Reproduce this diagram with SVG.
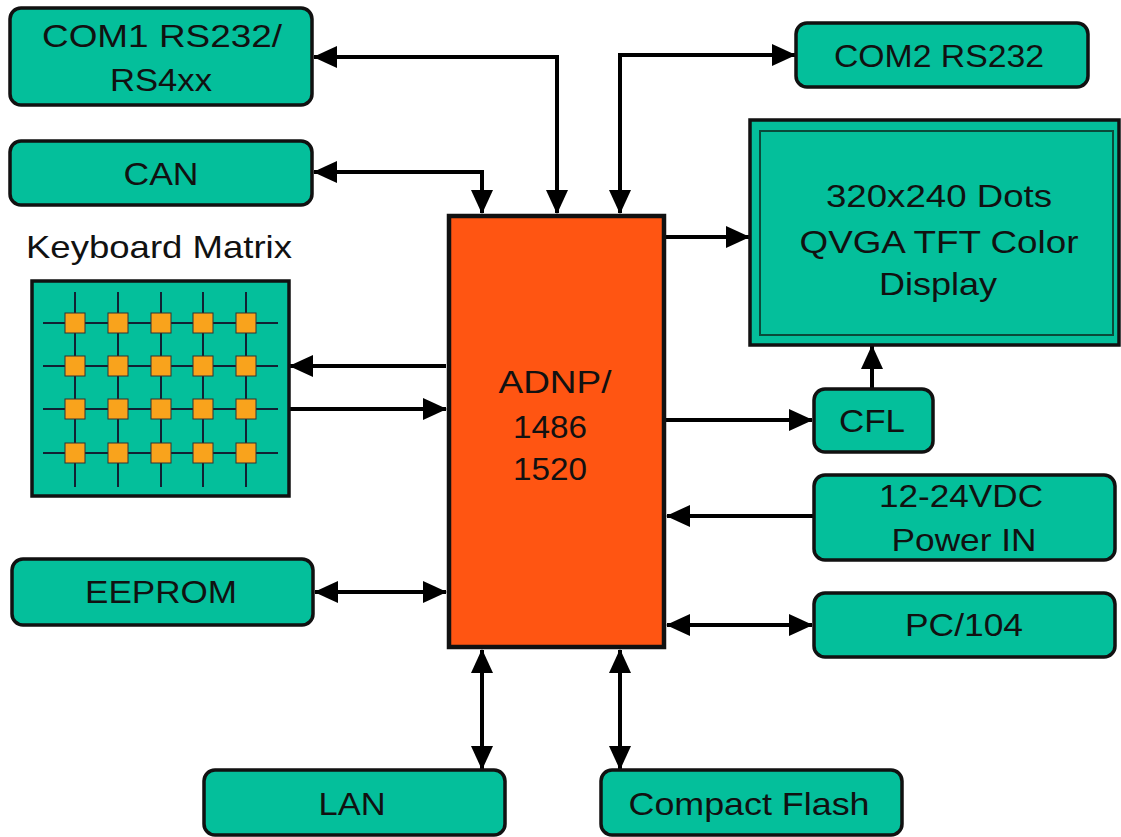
<svg xmlns="http://www.w3.org/2000/svg" width="1121" height="837" viewBox="0 0 1121 837">
<defs>
<style>
.box{fill:#04BF9B;stroke:#111;stroke-width:3.5}
.cpu{fill:#FF5512;stroke:#111;stroke-width:4.5}
.t{font-family:"Liberation Sans",Arial,sans-serif;font-size:32px;fill:#111;text-anchor:middle}
.c{fill:none;stroke:#000;stroke-width:4}
.g{stroke:#123;stroke-width:2}
.k{fill:#F9A31C;stroke:#333;stroke-width:1}
</style>
<marker id="ah" viewBox="0 0 24 22" refX="23" refY="11" markerWidth="24" markerHeight="22" markerUnits="userSpaceOnUse" orient="auto-start-reverse">
<path d="M0,0 L24,11 L0,22 z" fill="#000"/>
</marker>
</defs>
<rect width="1121" height="837" fill="#fff"/>

<g id="connectors">
<path class="c" d="M314,57 H557 V213" marker-start="url(#ah)" marker-end="url(#ah)"/>
<path class="c" d="M314,172 H482 V213" marker-start="url(#ah)" marker-end="url(#ah)"/>
<path class="c" d="M620,213 V55 H795" marker-start="url(#ah)" marker-end="url(#ah)"/>
<path class="c" d="M666,237 H749" marker-end="url(#ah)"/>
<path class="c" d="M446,366 H290" marker-end="url(#ah)"/>
<path class="c" d="M290,409 H446" marker-end="url(#ah)"/>
<path class="c" d="M666,420 H812" marker-end="url(#ah)"/>
<path class="c" d="M872,388 V346" marker-end="url(#ah)"/>
<path class="c" d="M813,516 H667" marker-end="url(#ah)"/>
<path class="c" d="M667,625 H812" marker-start="url(#ah)" marker-end="url(#ah)"/>
<path class="c" d="M315,592 H446" marker-start="url(#ah)" marker-end="url(#ah)"/>
<path class="c" d="M482,650 V769" marker-start="url(#ah)" marker-end="url(#ah)"/>
<path class="c" d="M620,650 V769" marker-start="url(#ah)" marker-end="url(#ah)"/>
</g>

<g id="com1">
<rect class="box" x="10" y="8" width="302" height="97" rx="11"/>
<text class="t" x="162" y="47" textLength="240" lengthAdjust="spacingAndGlyphs">COM1 RS232/</text>
<text class="t" x="161" y="91" textLength="102" lengthAdjust="spacingAndGlyphs">RS4xx</text>
</g>
<g id="can">
<rect class="box" x="10" y="141" width="302" height="64" rx="11"/>
<text class="t" x="161" y="185" textLength="75" lengthAdjust="spacingAndGlyphs">CAN</text>
</g>
<g id="com2">
<rect class="box" x="796" y="23" width="292" height="64" rx="11"/>
<text class="t" x="939" y="67" textLength="210" lengthAdjust="spacingAndGlyphs">COM2 RS232</text>
</g>
<g id="display">
<rect class="box" x="750" y="120" width="369" height="225"/>
<rect x="760" y="131" width="353" height="204" fill="none" stroke="#0a4a3a" stroke-width="2"/>
<text class="t" x="939" y="207" textLength="226" lengthAdjust="spacingAndGlyphs">320x240 Dots</text>
<text class="t" x="939" y="253" textLength="279" lengthAdjust="spacingAndGlyphs">QVGA TFT Color</text>
<text class="t" x="938" y="295" textLength="118" lengthAdjust="spacingAndGlyphs">Display</text>
</g>
<g id="keyboard">
<text class="t" x="159" y="258" textLength="266" lengthAdjust="spacingAndGlyphs">Keyboard Matrix</text>
<rect x="32" y="281" width="257" height="215" fill="#04BF9B" stroke="#111" stroke-width="3.5"/>
<g class="g">
<line x1="75" y1="292" x2="75" y2="487"/>
<line x1="118" y1="292" x2="118" y2="487"/>
<line x1="161" y1="292" x2="161" y2="487"/>
<line x1="203" y1="292" x2="203" y2="487"/>
<line x1="246" y1="292" x2="246" y2="487"/>
<line x1="43" y1="323" x2="278" y2="323"/>
<line x1="43" y1="366" x2="278" y2="366"/>
<line x1="43" y1="409" x2="278" y2="409"/>
<line x1="43" y1="453" x2="278" y2="453"/>
</g>
<g class="k">
<rect x="65" y="313" width="20" height="20"/><rect x="108" y="313" width="20" height="20"/><rect x="151" y="313" width="20" height="20"/><rect x="193" y="313" width="20" height="20"/><rect x="236" y="313" width="20" height="20"/>
<rect x="65" y="356" width="20" height="20"/><rect x="108" y="356" width="20" height="20"/><rect x="151" y="356" width="20" height="20"/><rect x="193" y="356" width="20" height="20"/><rect x="236" y="356" width="20" height="20"/>
<rect x="65" y="399" width="20" height="20"/><rect x="108" y="399" width="20" height="20"/><rect x="151" y="399" width="20" height="20"/><rect x="193" y="399" width="20" height="20"/><rect x="236" y="399" width="20" height="20"/>
<rect x="65" y="443" width="20" height="20"/><rect x="108" y="443" width="20" height="20"/><rect x="151" y="443" width="20" height="20"/><rect x="193" y="443" width="20" height="20"/><rect x="236" y="443" width="20" height="20"/>
</g>
</g>
<g id="cpu">
<rect class="cpu" x="449" y="216" width="215" height="431"/>
<text class="t" x="555" y="393" textLength="113" lengthAdjust="spacingAndGlyphs">ADNP/</text>
<text class="t" x="550" y="438" textLength="74" lengthAdjust="spacingAndGlyphs">1486</text>
<text class="t" x="550" y="480" textLength="74" lengthAdjust="spacingAndGlyphs">1520</text>
</g>
<g id="cfl">
<rect class="box" x="814" y="389" width="119" height="63" rx="11"/>
<text class="t" x="872" y="432" textLength="66" lengthAdjust="spacingAndGlyphs">CFL</text>
</g>
<g id="power">
<rect class="box" x="814" y="475" width="301" height="85" rx="11"/>
<text class="t" x="961" y="507" textLength="164" lengthAdjust="spacingAndGlyphs">12-24VDC</text>
<text class="t" x="964" y="551" textLength="145" lengthAdjust="spacingAndGlyphs">Power IN</text>
</g>
<g id="pc104">
<rect class="box" x="814" y="593" width="301" height="64" rx="11"/>
<text class="t" x="964" y="636" textLength="118" lengthAdjust="spacingAndGlyphs">PC/104</text>
</g>
<g id="eeprom">
<rect class="box" x="12" y="559" width="301" height="66" rx="11"/>
<text class="t" x="161" y="603" textLength="152" lengthAdjust="spacingAndGlyphs">EEPROM</text>
</g>
<g id="lan">
<rect class="box" x="204" y="770" width="301" height="65" rx="11"/>
<text class="t" x="352" y="815" textLength="67" lengthAdjust="spacingAndGlyphs">LAN</text>
</g>
<g id="cf">
<rect class="box" x="601" y="770" width="301" height="65" rx="11"/>
<text class="t" x="749" y="815" textLength="241" lengthAdjust="spacingAndGlyphs">Compact Flash</text>
</g>
</svg>
